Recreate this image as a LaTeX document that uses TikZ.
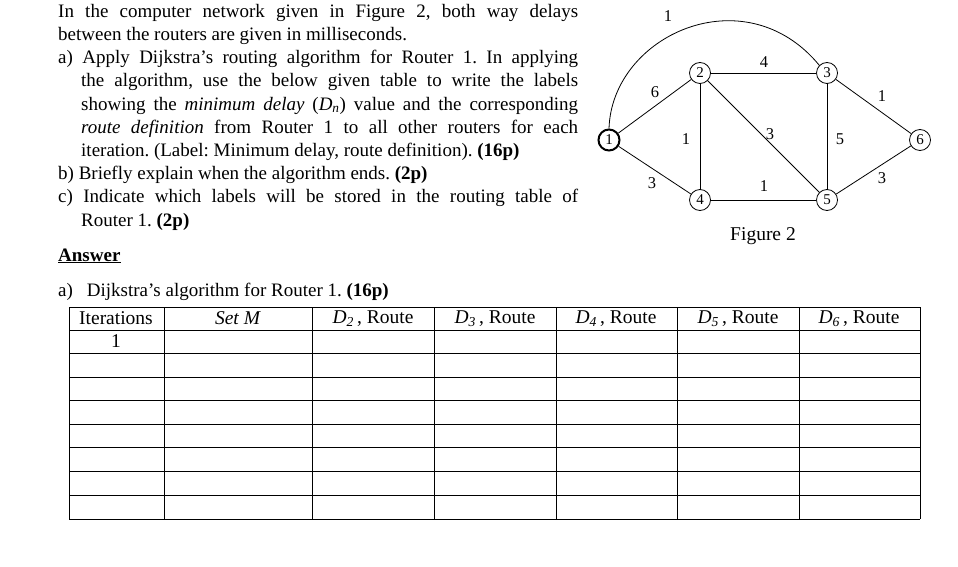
\documentclass[tikz,border=0pt]{standalone}
\usepackage{fontspec}
\setmainfont{Liberation Serif}
\frenchspacing
\begin{document}
\begin{tikzpicture}[x=1pt,y=-1pt,
  rt/.style={circle,draw,line width=0.8pt,minimum size=21pt,inner sep=0pt,font=\fontsize{15}{15}\selectfont},
  lab/.style={font=\fontsize{16.5}{16.5}\selectfont},
  ed/.style={line width=0.8pt},
  grid/.style={line width=0.6pt},
  hd/.style={font=\fontsize{19.5}{19.5}\selectfont,anchor=center}]
\useasboundingbox (0,0) rectangle (958,567);
% text
\node[anchor=north west,inner sep=0pt,text width=520pt,align=justify,font=\fontsize{19}{23.2}\selectfont] (txt) at (58,4) {\hyphenpenalty=10000 \exhyphenpenalty=10000 %
In the computer network given in Figure 2, both way delays\linebreak between the routers are given in milliseconds.\par
\hangindent=23pt\hangafter=1 a) Apply Dijkstra’s routing algorithm for Router 1. In applying\linebreak the algorithm, use the below given table to write the labels\linebreak showing the \textit{minimum delay} (\textit{D\textsubscript{n}}) value and the corresponding\linebreak \textit{route definition} from Router 1 to all other routers for each\linebreak iteration. (Label: Minimum delay, route definition). \textbf{(16p)}\par
\hangindent=23pt\hangafter=1 b) Briefly explain when the algorithm ends. \textbf{(2p)}\par
\hangindent=23pt\hangafter=1 c) Indicate which labels will be stored in the routing table of\linebreak Router 1. \textbf{(2p)}\par};
% graph
\node[rt,line width=2pt] (n1) at (609,140) {1};
\node[rt] (n2) at (700,73) {2};
\node[rt] (n3) at (827,73) {3};
\node[rt] (n4) at (700,200) {4};
\node[rt] (n5) at (827,200) {5};
\node[rt] (n6) at (920,140) {6};
\draw[ed] (n1.north) .. controls (612,35) and (745,-25) .. (n3.north west);
\draw[ed] (n1) -- (n2); \draw[ed] (n1) -- (n4);
\draw[ed] (n2) -- (n3); \draw[ed] (n2) -- (n4); \draw[ed] (n2) -- (n5);
\draw[ed] (n3) -- (n5); \draw[ed] (n4) -- (n5);
\draw[ed] (n3) -- (n6); \draw[ed] (n5) -- (n6);
\node[lab] (l13) at (668,16) {1};
\node[lab] (l23) at (764,62) {4};
\node[lab] (l12) at (655,92) {6};
\node[lab] (l24) at (686,139) {1};
\node[lab] (l25) at (770,134) {3};
\node[lab] (l35) at (840,139) {5};
\node[lab] (l36) at (882,96) {1};
\node[lab] (l14) at (652,183) {3};
\node[lab] (l45) at (764,186) {1};
\node[lab] (l56) at (882,178) {3};
\node[font=\fontsize{19.5}{19.5}\selectfont] (fig) at (763,236) {Figure 2};
% answer
\node[anchor=base west,inner sep=0pt,font=\fontsize{19}{19}\selectfont\bfseries] (ans) at (58,261) {Answer};
\draw[line width=1pt] ([yshift=-1pt]ans.south west) -- ([yshift=-1pt]ans.south east);
\node[anchor=base west,inner sep=0pt,font=\fontsize{19}{19}\selectfont] (qa) at (58,296) {a)\hspace{14pt}Dijkstra’s algorithm for Router 1. \textbf{(16p)}};
% table
\foreach \y in {307,330,353,377,400,424,447,471,495,519} \draw[grid] (69,\y) -- (920,\y);
\foreach \x in {69,164,312,434,556,677,799,920} \draw[grid] (\x,307) -- (\x,519);
\node[hd] (h1) at (116,318.5) {Iterations};
\node[hd] (h2) at (238,318.5) {\textit{Set M}};
\node[hd] (h3) at (373,318.5) {\textit{D\textsubscript{2}}\,, Route};
\node[hd] (h4) at (495,318.5) {\textit{D\textsubscript{3}}\,, Route};
\node[hd] (h5) at (616,318.5) {\textit{D\textsubscript{4}}\,, Route};
\node[hd] (h6) at (738,318.5) {\textit{D\textsubscript{5}}\,, Route};
\node[hd] (h7) at (859,318.5) {\textit{D\textsubscript{6}}\,, Route};
\node[hd] (r1) at (116,341.5) {1};
\end{tikzpicture}
\end{document}
